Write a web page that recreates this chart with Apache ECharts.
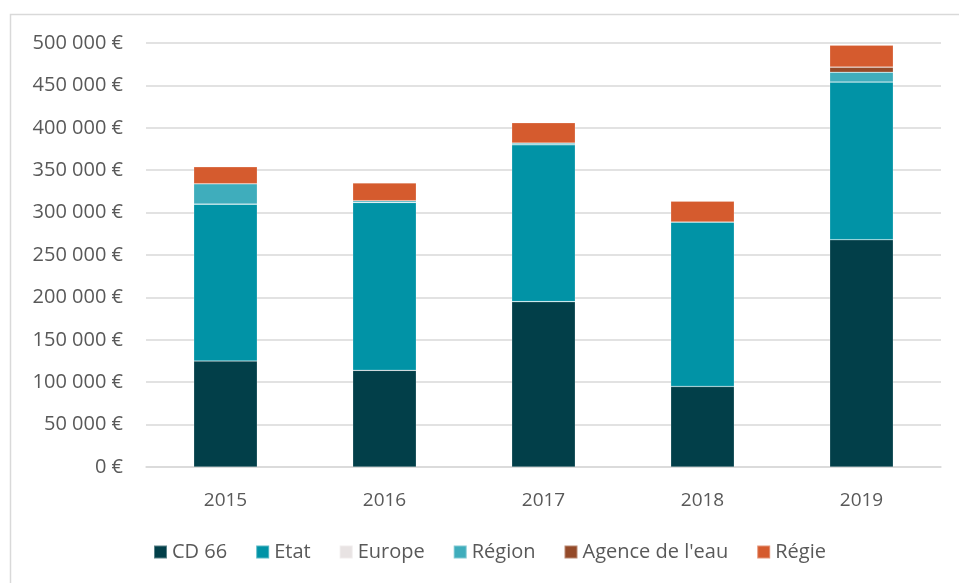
<!DOCTYPE html>
<html>
<head>
<meta charset="utf-8">
<script src="https://cdn.jsdelivr.net/npm/echarts@6/dist/echarts.min.js"></script>
<style>
html,body{margin:0;padding:0;background:#fff;}
#chart{width:959px;height:583px;}
</style>
</head>
<body>
<div id="chart"></div>
<script>
// Financement annuel par source (en euros)
const years = ['2015', '2016', '2017', '2018', '2019'];
const cd66 = [125000, 114000, 195000, 95000, 268000];
const etat = [185000, 198000, 185000, 194000, 186000];
const europe = [0, 0, 0, 0, 0];
const region = [24000, 2000, 2000, 0, 11500];
const agenceEau = [0, 0, 0, 0, 6000];
const regie = [20000, 21000, 24000, 24500, 26000];
const yTicks = [0, 50000, 100000, 150000, 200000, 250000, 300000, 350000, 400000, 450000, 500000];

const seriesDefs = [
  { name: 'CD 66', data: cd66, color: '#023f49' },
  { name: 'Etat', data: etat, color: '#0193a6' },
  { name: 'Europe', data: europe, color: '#e8e3e3' },
  { name: 'Région', data: region, color: '#3fadbc' },
  { name: "Agence de l'eau", data: agenceEau, color: '#944a29' },
  { name: 'Régie', data: regie, color: '#d55b2e' }
];

const fmt = v => String(v).replace(/\B(?=(\d{3})+(?!\d))/g, ' ') + ' €';
const font = '"Open Sans", sans-serif';

const chart = echarts.init(document.getElementById('chart'), null, { renderer: 'canvas' });
chart.setOption({
  animation: false,
  backgroundColor: '#fff',
  textStyle: { fontFamily: font },
  graphic: [{
    type: 'rect',
    shape: { x: 10.5, y: 14.5, width: 970, height: 590 },
    style: { fill: 'none', stroke: '#d9d9d9', lineWidth: 1.5 },
    silent: true
  }],
  grid: { left: 146, right: 18, top: 43, bottom: 116, containLabel: false },
  legend: {
    top: 537,
    left: 148,
    itemWidth: 13,
    itemHeight: 13,
    itemGap: 28,
    icon: 'rect',
    textStyle: { color: '#595959', fontSize: 20, fontFamily: font },
    data: seriesDefs.map(s => s.name)
  },
  xAxis: {
    type: 'category',
    data: years,
    axisTick: { show: false },
    axisLine: { lineStyle: { color: '#d9d9d9', width: 1.5 } },
    axisLabel: { color: '#595959', fontSize: 19, margin: 24, fontFamily: font }
  },
  yAxis: {
    type: 'value',
    min: yTicks[0],
    max: yTicks[yTicks.length - 1],
    interval: 50000,
    axisLine: { show: false },
    axisTick: { show: false },
    splitLine: { lineStyle: { color: '#d9d9d9', width: 1.5 } },
    axisLabel: { color: '#595959', fontSize: 20, margin: 23, formatter: fmt, fontFamily: font }
  },
  series: seriesDefs.map(s => ({
    name: s.name,
    type: 'bar',
    stack: 'total',
    data: s.data,
    barWidth: '40%',
    itemStyle: { color: s.color, borderColor: 'rgba(255,255,255,0.35)', borderWidth: 0.6 },
    emphasis: { disabled: true }
  }))
});
</script>
</body>
</html>
